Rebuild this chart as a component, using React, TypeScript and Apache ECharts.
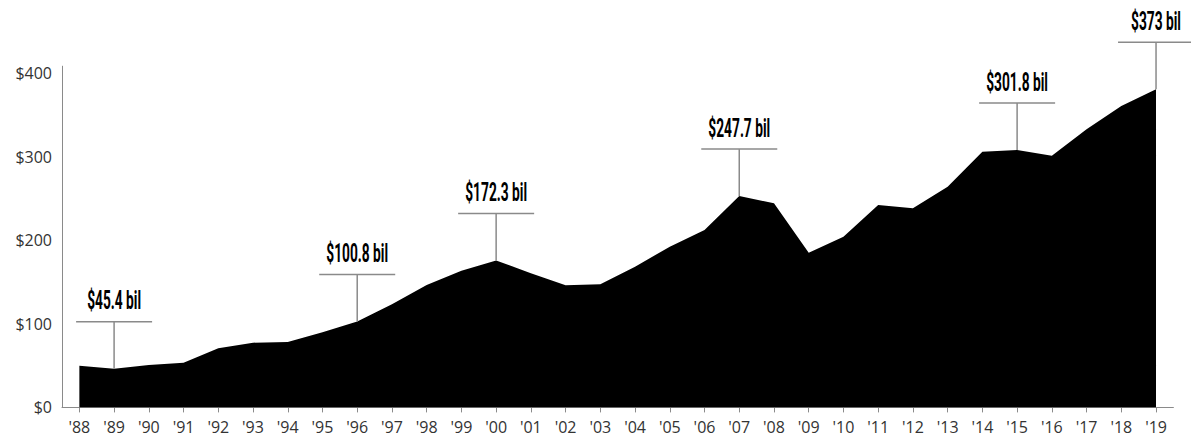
import React, { useEffect, useRef } from "react";
import * as echarts from "echarts";

const years = [
  "'88", "'89", "'90", "'91", "'92", "'93", "'94", "'95", "'96", "'97", "'98", "'99",
  "'00", "'01", "'02", "'03", "'04", "'05", "'06", "'07", "'08", "'09", "'10", "'11",
  "'12", "'13", "'14", "'15", "'16", "'17", "'18", "'19",
];

const spending = [
  48.9, 45.4, 49.7, 52.4, 69.3, 75.9, 76.7, 88, 100.8, 120.8, 143.5, 160.3,
  172.3, 157.2, 143.1, 144.3, 165, 188.4, 208, 247.7, 239.3, 181.4, 200.1, 237.3,
  233.4, 258.7, 299.8, 301.8, 295.1, 326, 353.3, 373,
];

const yTickLabels = ["$0", "$100", "$200", "$300", "$400"];

const annotatedYears = ["'89", "'96", "'00", "'07", "'15", "'19"];
const annotationLabels = ["$45.4 bil", "$100.8 bil", "$172.3 bil", "$247.7 bil", "$301.8 bil", "$373 bil"];

const GRAY = "#8a8a8a";

export default function App() {
  const ref = useRef<HTMLDivElement>(null);

  useEffect(() => {
    if (!ref.current) return;
    const chart = echarts.init(ref.current, undefined, { renderer: "svg" });

    const annData = annotatedYears.map((y) => {
      const idx = years.indexOf(y);
      return [idx, spending[idx]];
    });

    const option: any = {
      animation: false,
      backgroundColor: "#ffffff",
      grid: { left: 62, right: 17.6, top: 66.2, bottom: 32.6, containLabel: false },
      xAxis: {
        type: "category",
        data: years,
        boundaryGap: true,
        axisLine: { show: true, lineStyle: { color: GRAY, width: 1 } },
        axisTick: { show: true, alignWithLabel: true, length: 5, lineStyle: { color: GRAY } },
        axisLabel: {
          interval: 0,
          margin: 12,
          color: "#333",
          fontFamily: "'Open Sans', sans-serif",
          fontSize: 16,
        },
        splitLine: { show: false },
      },
      yAxis: [
        {
          type: "value",
          min: 0,
          max: 400,
          show: false,
          splitLine: { show: false },
        },
        {
          type: "value",
          min: 0,
          max: 408.4,
          interval: 100,
          position: "left",
          axisLine: { show: true, lineStyle: { color: GRAY, width: 1 } },
          axisTick: { show: false },
          splitLine: { show: false },
          axisLabel: {
            margin: 10,
            color: "#333",
            fontFamily: "'Open Sans', sans-serif",
            fontSize: 16,
            formatter: (v: number) => {
              const i = Math.round(v / 100);
              return yTickLabels[i] ?? "";
            },
          },
        },
      ],
      series: [
        {
          type: "line",
          data: spending,
          yAxisIndex: 0,
          symbol: "none",
          lineStyle: { width: 0, color: "#000" },
          areaStyle: { color: "#000", opacity: 1 },
          z: 2,
        },
        {
          type: "custom",
          yAxisIndex: 0,
          clip: false,
          z: 5,
          data: annData,
          encode: { x: 0, y: 1 },
          renderItem: (params: any, api: any) => {
            const p = api.coord([api.value(0), api.value(1)]);
            const top = p[1] - 47;
            const label = annotationLabels[params.dataIndex];
            return {
              type: "group",
              children: [
                {
                  type: "line",
                  shape: { x1: p[0], y1: p[1], x2: p[0], y2: top },
                  style: { stroke: GRAY, lineWidth: 1.5 },
                },
                {
                  type: "line",
                  shape: { x1: p[0] - 38, y1: top, x2: p[0] + 38, y2: top },
                  style: { stroke: GRAY, lineWidth: 1.5 },
                },
                {
                  type: "text",
                  x: p[0],
                  y: top - 21,
                  scaleX: 0.55,
                  style: {
                    text: label,
                    x: 0,
                    y: 0,
                    align: "center",
                    verticalAlign: "middle",
                    fontFamily: "Roboto, sans-serif",
                    fontWeight: "bold",
                    fontSize: 25,
                    fill: "#000",
                  },
                },
              ],
            };
          },
        },
      ],
    };

    chart.setOption(option);
    return () => chart.dispose();
  }, []);

  return (
    <div
      ref={ref}
      style={{ position: "fixed", left: 0, top: 0, width: 1191, height: 440 }}
    />
  );
}
